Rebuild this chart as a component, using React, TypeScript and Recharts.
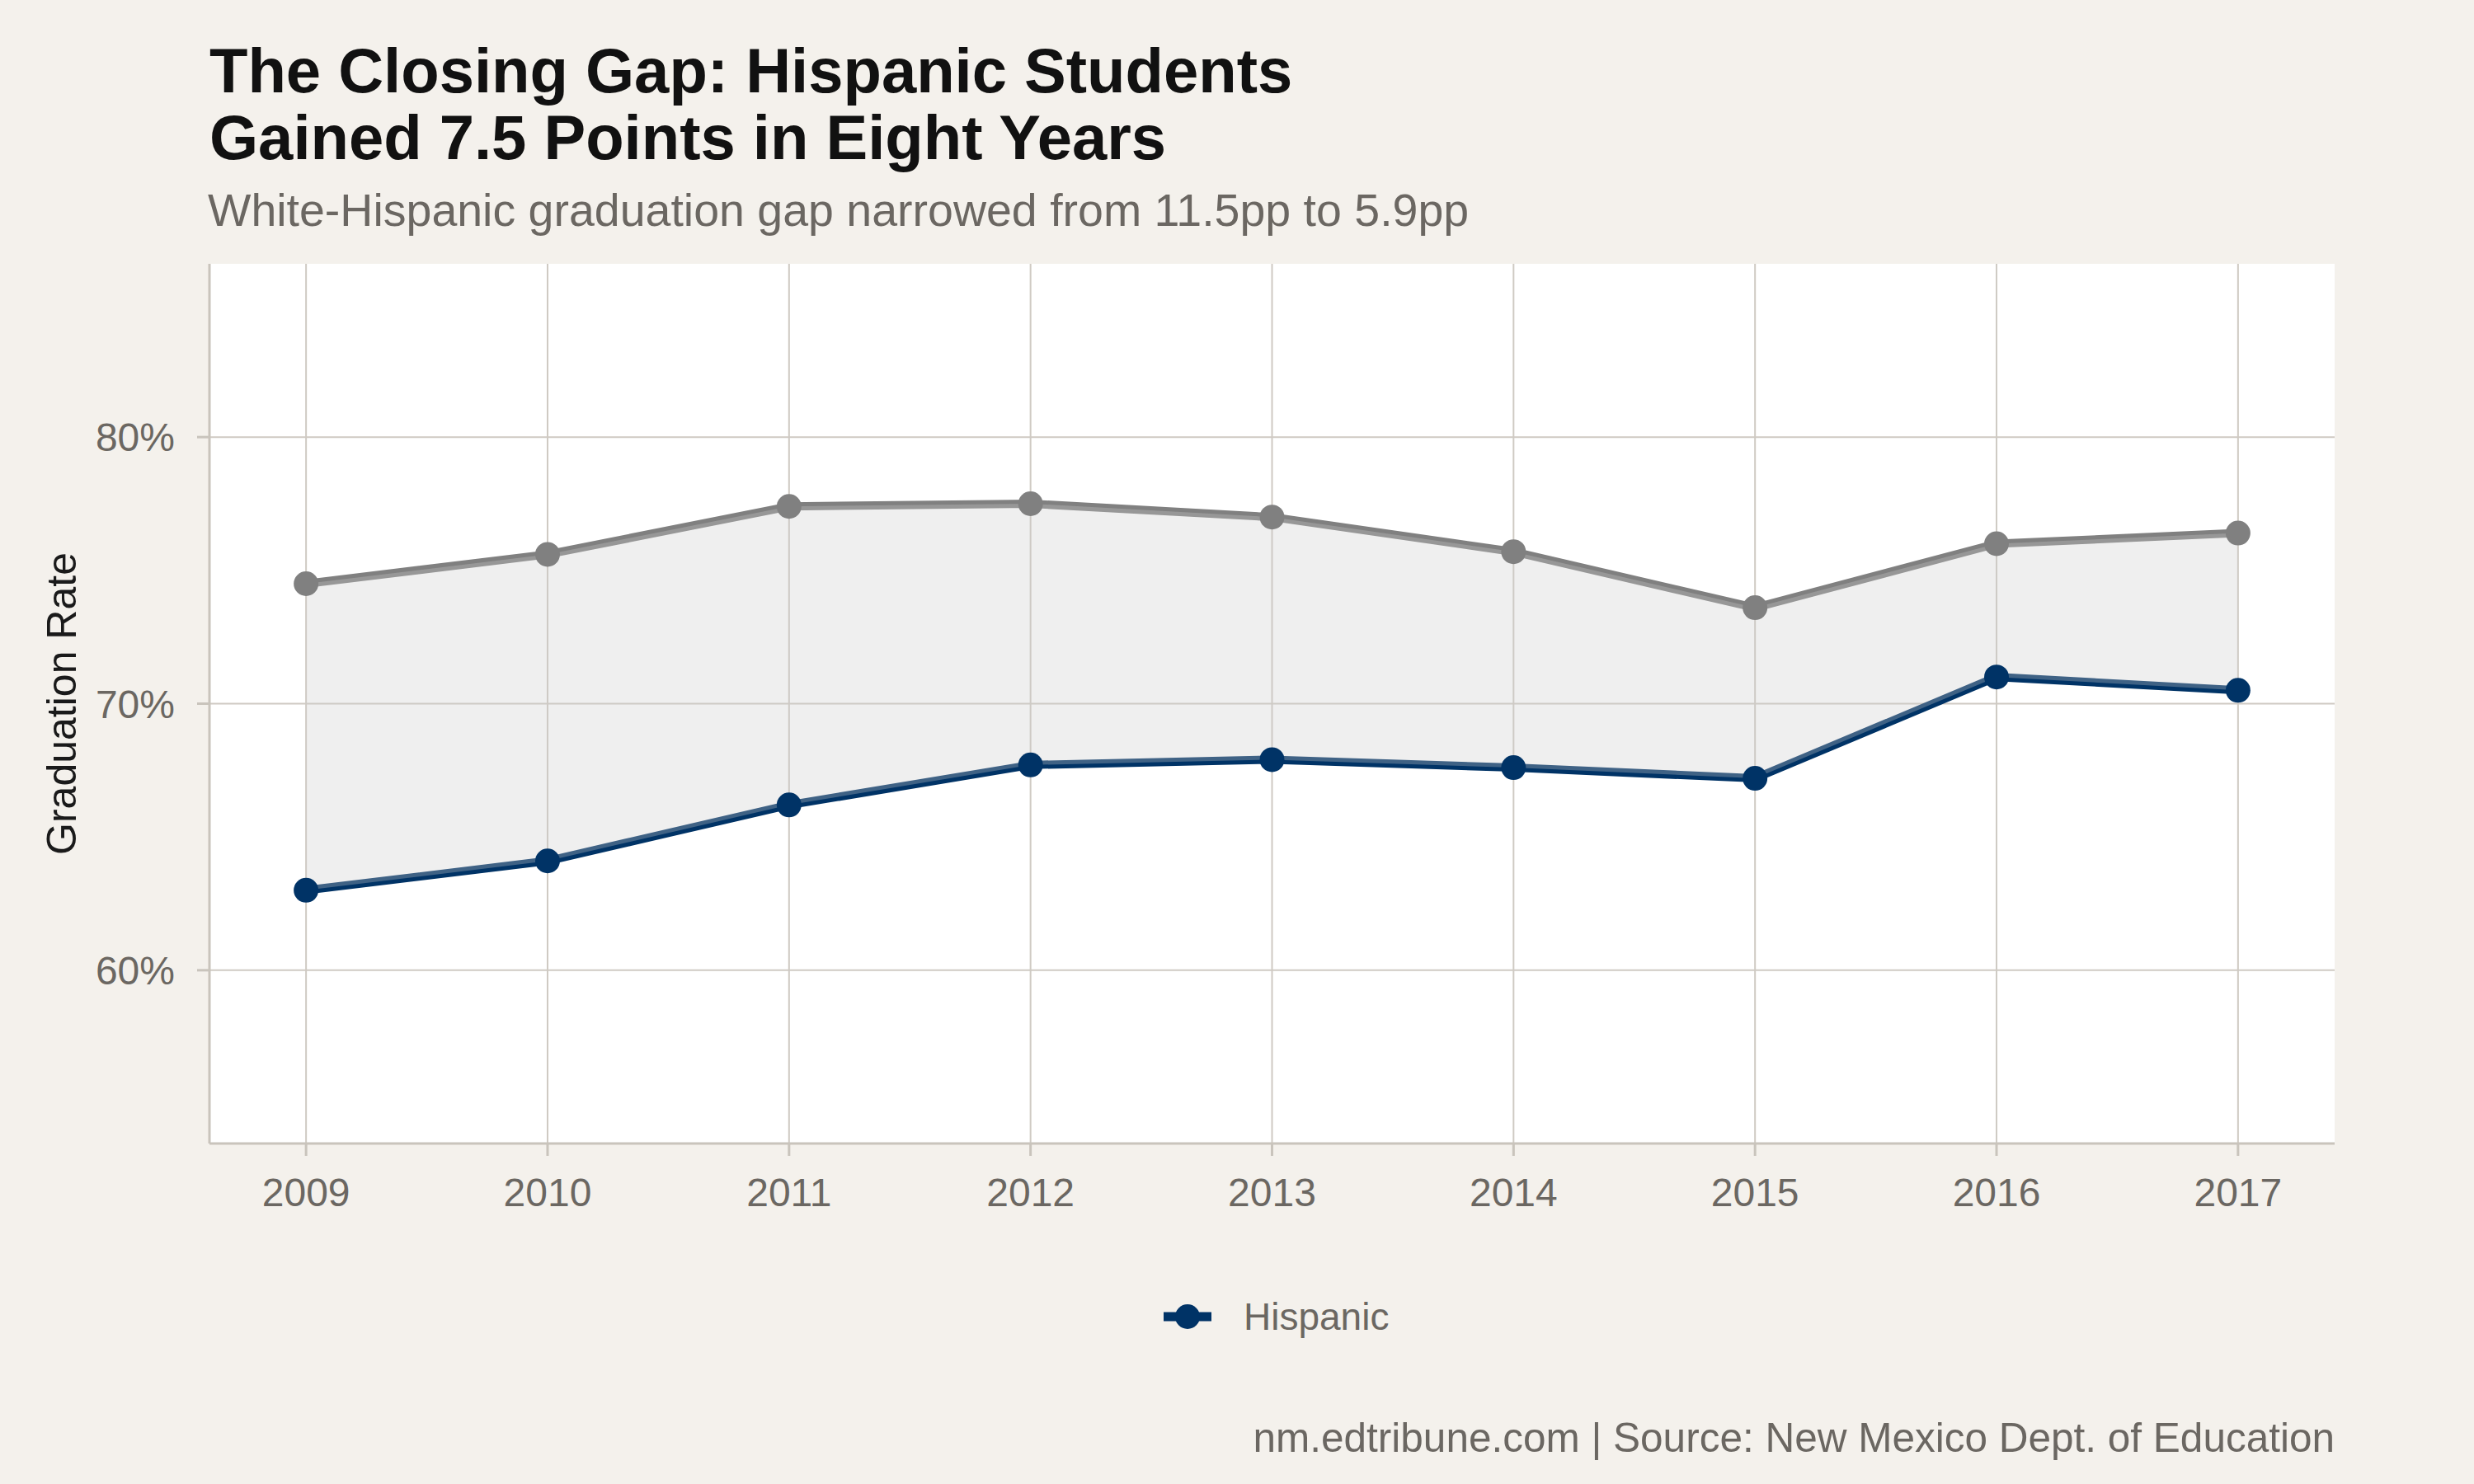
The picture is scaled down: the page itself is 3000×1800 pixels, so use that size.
import {
  Area,
  CartesianGrid,
  ComposedChart,
  Line,
  XAxis,
  YAxis,
} from "recharts"

const years = [2009, 2010, 2011, 2012, 2013, 2014, 2015, 2016, 2017]
const whiteRate = [74.5, 75.6, 77.4, 77.5, 77.0, 75.7, 73.6, 76.0, 76.4]
const hispanicRate = [63.0, 64.1, 66.2, 67.7, 67.9, 67.6, 67.2, 71.0, 70.5]
const yTicks = [60, 70, 80]

const FONT = '"Liberation Sans", Arial, Helvetica, sans-serif'
const BG = "#f4f1ec"
const GRID = "#cfcac3"
const AXIS = "#c9c4bc"
const MUTED = "#6b6762"
const NAVY = "#003366"
const GRAY = "#808080"

const data = years.map((year, i) => ({
  year,
  white: whiteRate[i],
  hispanic: hispanicRate[i],
  gap: [hispanicRate[i], whiteRate[i]],
}))

const YLabel = (props: any) => {
  const vb = props.viewBox
  const cy = vb.y + vb.height / 2
  return (
    <text
      x={92}
      y={cy}
      transform={`rotate(-90 92 ${cy})`}
      textAnchor="middle"
      fontSize={50}
      fontFamily={FONT}
      fill="#1a1a1a"
    >
      Graduation Rate
    </text>
  )
}

export default function App() {
  return (
    <div
      style={{
        position: "absolute",
        top: 0,
        left: 0,
        width: 3000,
        height: 1800,
        background: BG,
        fontFamily: FONT,
      }}
    >
      <ComposedChart
        width={3000}
        height={1800}
        data={data}
        margin={{ top: 320, right: 169, bottom: 353, left: 0 }}
      >
        <CartesianGrid
          stroke={GRID}
          strokeWidth={2}
          fill="#ffffff"
          syncWithTicks
        />
        <XAxis
          dataKey="year"
          type="number"
          domain={[2008.6, 2017.4]}
          ticks={years}
          allowDataOverflow
          height={60}
          tick={{ fill: MUTED, fontSize: 48, fontFamily: FONT }}
          tickSize={15}
          tickMargin={27}
          axisLine={{ stroke: AXIS, strokeWidth: 3 }}
          tickLine={{ stroke: AXIS, strokeWidth: 3 }}
        />
        <YAxis
          type="number"
          domain={[53.5, 86.5]}
          ticks={yTicks}
          allowDataOverflow
          width={254}
          tickFormatter={(v) => `${v}%`}
          tick={{ fill: MUTED, fontSize: 48, fontFamily: FONT }}
          tickSize={15}
          tickMargin={27}
          axisLine={{ stroke: AXIS, strokeWidth: 3 }}
          tickLine={{ stroke: AXIS, strokeWidth: 3 }}
          label={{ content: YLabel }}
        />
        <Line
          dataKey="white"
          stroke={GRAY}
          strokeWidth={10}
          dot={{ r: 15, fill: GRAY, stroke: GRAY, strokeWidth: 0 }}
          activeDot={false}
          isAnimationActive={false}
        />
        <Line
          dataKey="hispanic"
          stroke={NAVY}
          strokeWidth={10}
          dot={{ r: 15, fill: NAVY, stroke: NAVY, strokeWidth: 0 }}
          activeDot={false}
          isAnimationActive={false}
        />
        <Area
          dataKey="gap"
          type="linear"
          stroke="none"
          fill="#cbcbcb"
          fillOpacity={0.31}
          activeDot={false}
          zIndex={450}
          isAnimationActive={false}
        />
      </ComposedChart>
      <svg
        width={3000}
        height={1800}
        style={{ position: "absolute", top: 0, left: 0, pointerEvents: "none" }}
      >
        <text x={254} y={112} fontSize={76} fontWeight="bold" fontFamily={FONT} fill="#111">
          The Closing Gap: Hispanic Students
        </text>
        <text x={254} y={193} fontSize={76} fontWeight="bold" fontFamily={FONT} fill="#111">
          Gained 7.5 Points in Eight Years
        </text>
        <text x={252} y={274} fontSize={55.5} fontFamily={FONT} fill={MUTED}>
          White-Hispanic graduation gap narrowed from 11.5pp to 5.9pp
        </text>
        <line x1={1411} y1={1597} x2={1469} y2={1597} stroke={NAVY} strokeWidth={11} />
        <circle cx={1440} cy={1597} r={15} fill={NAVY} />
        <text x={1508} y={1613} fontSize={46} fontFamily={FONT} fill={MUTED}>
          Hispanic
        </text>
        <text x={2831} y={1761} fontSize={49.5} fontFamily={FONT} fill={MUTED} textAnchor="end">
          nm.edtribune.com | Source: New Mexico Dept. of Education
        </text>
      </svg>
    </div>
  )
}
